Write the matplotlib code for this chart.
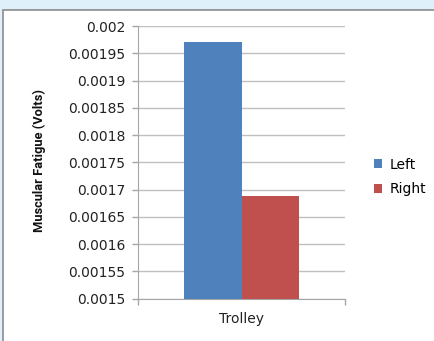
import matplotlib.pyplot as plt
from matplotlib.patches import Rectangle

category = "Trolley"
series = ["Left", "Right"]
values = [0.001971, 0.001688]
colors = ["#4F81BD", "#C0504D"]
yticks = [0.0015, 0.00155, 0.0016, 0.00165, 0.0017, 0.00175,
          0.0018, 0.00185, 0.0019, 0.00195, 0.002]
ytick_labels = ["0.0015", "0.00155", "0.0016", "0.00165", "0.0017", "0.00175",
                "0.0018", "0.00185", "0.0019", "0.00195", "0.002"]

fig = plt.figure(figsize=(4.34, 3.41), dpi=100, facecolor="#dff0fb")
# white chart area with grey frame
fig.patches.append(Rectangle((2.5 / 434, -0.05), 1.0, (341 - 9.5) / 341 + 0.05,
                             transform=fig.transFigure, facecolor="white",
                             edgecolor="#8c8c8c", linewidth=1.2, zorder=-5))

ax = fig.add_axes([138 / 434, 1 - 298.7 / 341, 207 / 434, 272.7 / 341])
ax.set_facecolor("none")
ax.set_zorder(2)

width = 0.28
xs = [0.5 - width / 2, 0.5 + width / 2]
for x, v, c, name in zip(xs, values, colors, series):
    ax.bar(x, v - 0.0015, width, bottom=0.0015, color=c, label=name, zorder=3)

ax.set_xlim(0, 1)
ax.set_ylim(0.0015, 0.002)
ax.set_yticks(yticks)
ax.set_yticklabels(ytick_labels, fontsize=10, family="DejaVu Sans", color="#222222")
ax.set_xticks([0, 1])
ax.set_xticklabels(["", ""])
ax.text(0.5, -0.075, category, transform=ax.transAxes, ha="center", va="center",
        fontsize=10, family="DejaVu Sans", color="#222222")

ax.grid(axis="y", color="#c0c0c0", linewidth=1, zorder=0)
for s in ["top", "right"]:
    ax.spines[s].set_visible(False)
for s in ["left", "bottom"]:
    ax.spines[s].set_color("#a6a6a6")
ax.tick_params(axis="both", color="#a6a6a6", length=4, width=1)
ax.tick_params(axis="y", pad=5)

ax.set_ylabel("Muscular Fatigue (Volts)", family=["Roboto", "DejaVu Sans"],
              fontweight="bold", fontsize=9.3, color="#111111")
ax.yaxis.set_label_coords(46 / 434, 1 - 160 / 341, transform=fig.transFigure)

leg = fig.legend(loc="center left", bbox_to_anchor=(361 / 434, 1 - 177 / 341),
                 frameon=False, prop={"family": "DejaVu Sans", "size": 10},
                 handlelength=0.6, handleheight=0.6, handletextpad=0.55,
                 labelspacing=0.75)

fig.savefig("out.png", dpi=100, facecolor=fig.get_facecolor())
